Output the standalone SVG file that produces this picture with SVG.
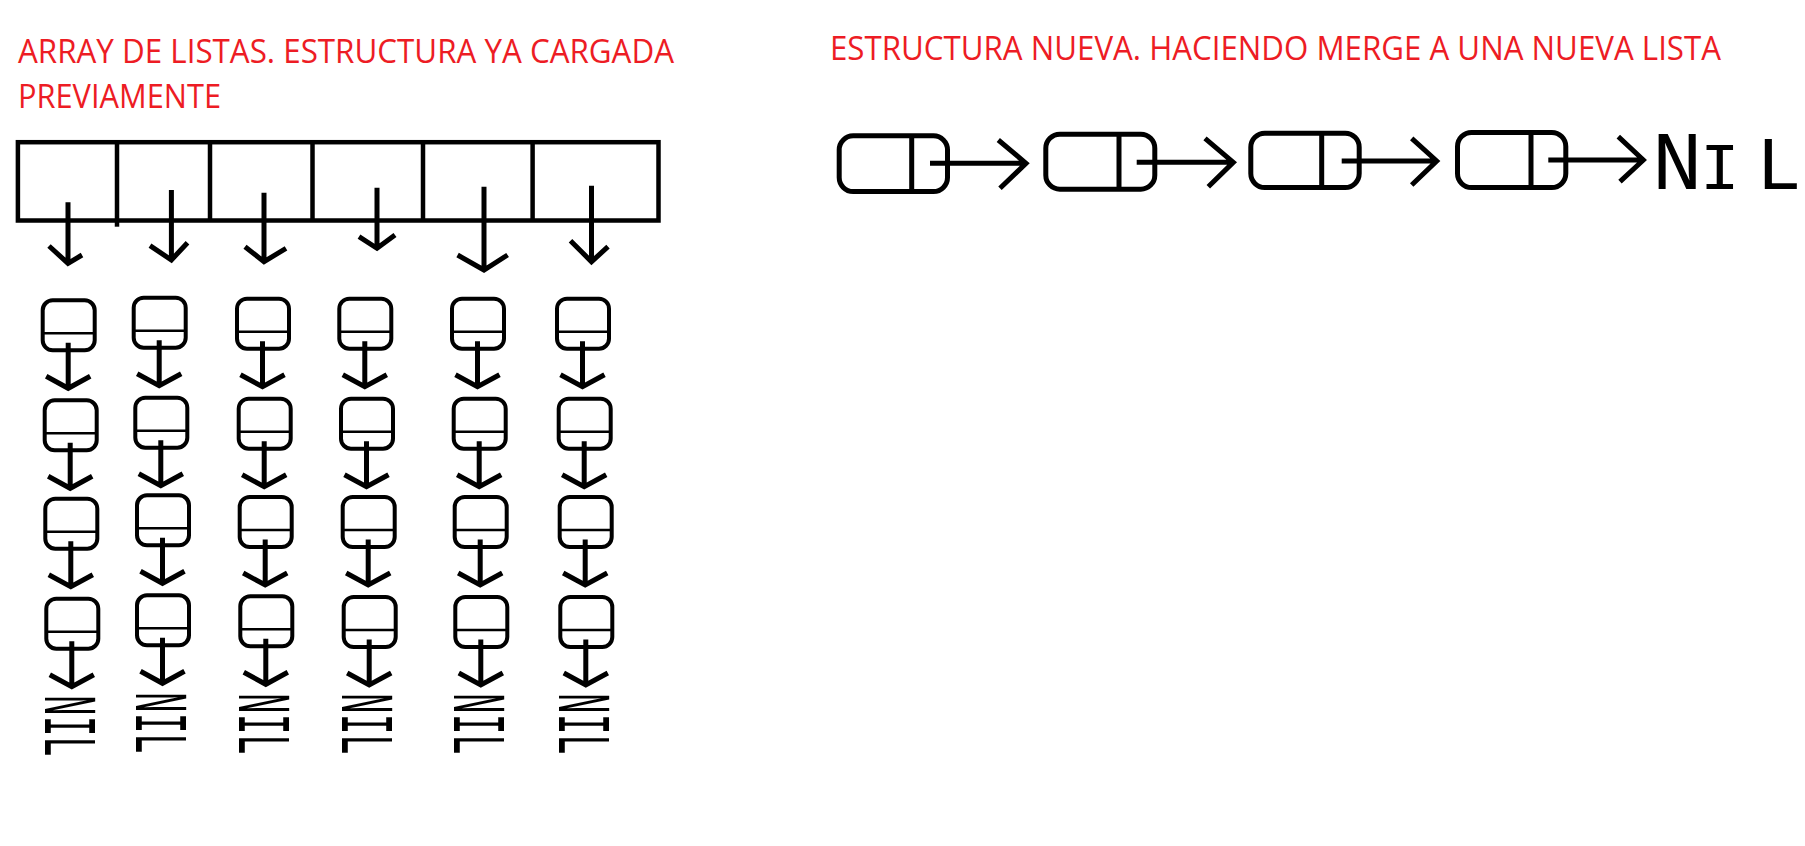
<svg xmlns="http://www.w3.org/2000/svg" width="1805" height="846" viewBox="0 0 1805 846">
<style>
.t{font-family:"Open Sans","Noto Sans",sans-serif;fill:#ED1C24;}
.box{fill:none;stroke:#000;stroke-width:4.5;}
.sep{stroke:#000;stroke-width:4.5;}
.vn rect{fill:none;stroke:#000;stroke-width:4;}
.vn line{stroke:#000;stroke-width:2.5;}
.hn rect{fill:none;stroke:#000;stroke-width:5;}
.hn line{stroke:#000;stroke-width:5;}
.arr path{fill:none;stroke:#000;stroke-width:5;stroke-linejoin:miter;}
.nil{font-family:"Liberation Mono","DejaVu Sans Mono",monospace;fill:#000;}
</style>
<rect width="1805" height="846" fill="#fff"/>
<g id="titles">
<text class="t" x="18" y="62.7" font-size="32" textLength="656" lengthAdjust="spacingAndGlyphs">ARRAY DE LISTAS. ESTRUCTURA YA CARGADA</text>
<text class="t" x="18" y="107.7" font-size="32" textLength="203" lengthAdjust="spacingAndGlyphs">PREVIAMENTE</text>
<text class="t" x="830" y="60" font-size="32" textLength="891" lengthAdjust="spacingAndGlyphs">ESTRUCTURA NUEVA. HACIENDO MERGE A UNA NUEVA LISTA</text>
</g>
<g id="array">
<rect class="box" x="17.9" y="142.2" width="640.6" height="78.3"/>
<line class="sep" x1="117" y1="142" x2="117" y2="226.7"/>
<line class="sep" x1="210" y1="142" x2="210" y2="220.5"/>
<line class="sep" x1="312.5" y1="142" x2="312.5" y2="220.5"/>
<line class="sep" x1="423" y1="142" x2="423" y2="220.5"/>
<line class="sep" x1="532.6" y1="142" x2="532.6" y2="220.5"/>
</g>
<g id="col1">
<g id="c1n1" class="vn"><rect x="42.7" y="300.3" width="52" height="50" rx="10"/><line x1="42.7" y1="333.3" x2="94.7" y2="333.3"/></g>
<g id="c1n2" class="vn"><rect x="44.7" y="400.3" width="52" height="50" rx="10"/><line x1="44.7" y1="433.3" x2="96.7" y2="433.3"/></g>
<g id="c1n3" class="vn"><rect x="45.3" y="498.7" width="52" height="50" rx="10"/><line x1="45.3" y1="531.7" x2="97.3" y2="531.7"/></g>
<g id="c1n4" class="vn"><rect x="46.3" y="598.7" width="52" height="50" rx="10"/><line x1="46.3" y1="631.7" x2="98.3" y2="631.7"/></g>
<text id="c1nil" class="nil" font-size="76" textLength="62" lengthAdjust="spacingAndGlyphs" transform="translate(45,695) rotate(90)">NIL</text>
</g>
<g id="col2">
<g id="c2n1" class="vn"><rect x="133.7" y="297.7" width="52" height="50" rx="10"/><line x1="133.7" y1="330.7" x2="185.7" y2="330.7"/></g>
<g id="c2n2" class="vn"><rect x="135.3" y="397.7" width="52" height="50" rx="10"/><line x1="135.3" y1="430.7" x2="187.3" y2="430.7"/></g>
<g id="c2n3" class="vn"><rect x="137" y="495.3" width="52" height="50" rx="10"/><line x1="137" y1="528.3" x2="189" y2="528.3"/></g>
<g id="c2n4" class="vn"><rect x="137" y="595.3" width="52" height="50" rx="10"/><line x1="137" y1="628.3" x2="189" y2="628.3"/></g>
<text id="c2nil" class="nil" font-size="76" textLength="62" lengthAdjust="spacingAndGlyphs" transform="translate(135.7,692) rotate(90)">NIL</text>
</g>
<g id="col3">
<g id="c3n1" class="vn"><rect x="237" y="298.7" width="52" height="50" rx="10"/><line x1="237" y1="331.7" x2="289" y2="331.7"/></g>
<g id="c3n2" class="vn"><rect x="238.7" y="398.7" width="52" height="50" rx="10"/><line x1="238.7" y1="431.7" x2="290.7" y2="431.7"/></g>
<g id="c3n3" class="vn"><rect x="239.7" y="497" width="52" height="50" rx="10"/><line x1="239.7" y1="530" x2="291.7" y2="530"/></g>
<g id="c3n4" class="vn"><rect x="240.3" y="596.3" width="52" height="50" rx="10"/><line x1="240.3" y1="629.3" x2="292.3" y2="629.3"/></g>
<text id="c3nil" class="nil" font-size="76" textLength="62" lengthAdjust="spacingAndGlyphs" transform="translate(239,693) rotate(90)">NIL</text>
</g>
<g id="col4">
<g id="c4n1" class="vn"><rect x="339.3" y="298.7" width="52" height="50" rx="10"/><line x1="339.3" y1="331.7" x2="391.3" y2="331.7"/></g>
<g id="c4n2" class="vn"><rect x="341" y="398.7" width="52" height="50" rx="10"/><line x1="341" y1="431.7" x2="393" y2="431.7"/></g>
<g id="c4n3" class="vn"><rect x="342.7" y="497" width="52" height="50" rx="10"/><line x1="342.7" y1="530" x2="394.7" y2="530"/></g>
<g id="c4n4" class="vn"><rect x="343.7" y="597" width="52" height="50" rx="10"/><line x1="343.7" y1="630" x2="395.7" y2="630"/></g>
<text id="c4nil" class="nil" font-size="76" textLength="62" lengthAdjust="spacingAndGlyphs" transform="translate(342.4,693) rotate(90)">NIL</text>
</g>
<g id="col5">
<g id="c5n1" class="vn"><rect x="452" y="298.7" width="52" height="50" rx="10"/><line x1="452" y1="331.7" x2="504" y2="331.7"/></g>
<g id="c5n2" class="vn"><rect x="453.7" y="398.7" width="52" height="50" rx="10"/><line x1="453.7" y1="431.7" x2="505.7" y2="431.7"/></g>
<g id="c5n3" class="vn"><rect x="454.7" y="497" width="52" height="50" rx="10"/><line x1="454.7" y1="530" x2="506.7" y2="530"/></g>
<g id="c5n4" class="vn"><rect x="455.3" y="597" width="52" height="50" rx="10"/><line x1="455.3" y1="630" x2="507.3" y2="630"/></g>
<text id="c5nil" class="nil" font-size="76" textLength="62" lengthAdjust="spacingAndGlyphs" transform="translate(454,693) rotate(90)">NIL</text>
</g>
<g id="col6">
<g id="c6n1" class="vn"><rect x="557" y="298.7" width="52" height="50" rx="10"/><line x1="557" y1="331.7" x2="609" y2="331.7"/></g>
<g id="c6n2" class="vn"><rect x="558.7" y="398.7" width="52" height="50" rx="10"/><line x1="558.7" y1="431.7" x2="610.7" y2="431.7"/></g>
<g id="c6n3" class="vn"><rect x="559.7" y="497" width="52" height="50" rx="10"/><line x1="559.7" y1="530" x2="611.7" y2="530"/></g>
<g id="c6n4" class="vn"><rect x="560.3" y="597" width="52" height="50" rx="10"/><line x1="560.3" y1="630" x2="612.3" y2="630"/></g>
<text id="c6nil" class="nil" font-size="76" textLength="62" lengthAdjust="spacingAndGlyphs" transform="translate(559,693) rotate(90)">NIL</text>
</g>
<g id="merged">
<g id="m1" class="hn"><rect x="839.2" y="135.8" width="108.3" height="55.7" rx="14"/><line x1="911.7" y1="135.8" x2="911.7" y2="191.5"/></g>
<g id="m2" class="hn"><rect x="1045.8" y="134.2" width="109" height="55" rx="14"/><line x1="1119" y1="134.2" x2="1119" y2="189.2"/></g>
<g id="m3" class="hn"><rect x="1250.8" y="133.2" width="108.4" height="54.3" rx="14"/><line x1="1321.7" y1="133.2" x2="1321.7" y2="187.5"/></g>
<g id="m4" class="hn"><rect x="1457.5" y="132.5" width="108.3" height="55" rx="14"/><line x1="1531" y1="132.5" x2="1531" y2="187.5"/></g>
<text id="mnil" class="nil" y="189"><tspan x="1652" font-size="84">N</tspan><tspan x="1700" font-size="66">I</tspan><tspan x="1756" font-size="76">L</tspan></text>
</g>
<g id="connectors" class="arr">
<path d="M68,202.3V263.3M49,246L68,263.3L82,255"/>
<path d="M171.4,190V260M150,245.7L171.4,260L187.5,242.7"/>
<path d="M264,192.7V261.7M245,246.7L264,261.7L286,248.3"/>
<path d="M377,187.7V248.3M359,236.7L377,248.3L395,235"/>
<path d="M484,186.7V270M457.6,255L484,270L507.6,255"/>
<path d="M591.5,185.7V261.7M570.5,240.7L591.5,261.7L608,246.7"/>
<path d="M68.2,342.8V388.3M46.2,376.3L68.2,388.3L90.2,376.3"/>
<path d="M70.2,442.8V488.3M48.2,476.3L70.2,488.3L92.2,476.3"/>
<path d="M70.8,541.2V586.7M48.8,574.7L70.8,586.7L92.8,574.7"/>
<path d="M71.8,641.2V686.7M49.8,674.7L71.8,686.7L93.8,674.7"/>
<path d="M159.2,340.2V385.7M137.2,373.7L159.2,385.7L181.2,373.7"/>
<path d="M160.8,440.2V485.7M138.8,473.7L160.8,485.7L182.8,473.7"/>
<path d="M162.5,537.8V583.3M140.5,571.3L162.5,583.3L184.5,571.3"/>
<path d="M162.5,637.8V683.3M140.5,671.3L162.5,683.3L184.5,671.3"/>
<path d="M262.5,341.2V386.7M240.5,374.7L262.5,386.7L284.5,374.7"/>
<path d="M264.2,441.2V486.7M242.2,474.7L264.2,486.7L286.2,474.7"/>
<path d="M265.2,539.5V585M243.2,573L265.2,585L287.2,573"/>
<path d="M265.8,638.8V684.3M243.8,672.3L265.8,684.3L287.8,672.3"/>
<path d="M364.8,341.2V386.7M342.8,374.7L364.8,386.7L386.8,374.7"/>
<path d="M366.5,441.2V486.7M344.5,474.7L366.5,486.7L388.5,474.7"/>
<path d="M368.2,539.5V585M346.2,573L368.2,585L390.2,573"/>
<path d="M369.2,639.5V685M347.2,673L369.2,685L391.2,673"/>
<path d="M477.5,341.2V386.7M455.5,374.7L477.5,386.7L499.5,374.7"/>
<path d="M479.2,441.2V486.7M457.2,474.7L479.2,486.7L501.2,474.7"/>
<path d="M480.2,539.5V585M458.2,573L480.2,585L502.2,573"/>
<path d="M480.8,639.5V685M458.8,673L480.8,685L502.8,673"/>
<path d="M582.5,341.2V386.7M560.5,374.7L582.5,386.7L604.5,374.7"/>
<path d="M584.2,441.2V486.7M562.2,474.7L584.2,486.7L606.2,474.7"/>
<path d="M585.2,539.5V585M563.2,573L585.2,585L607.2,573"/>
<path d="M585.8,639.5V685M563.8,673L585.8,685L607.8,673"/>
<path d="M930,163.3H1026M998.3,140L1026,163.3L1000,188.3"/>
<path d="M1136.7,162.3H1233.3M1205,138.3L1233.3,162.3L1208.3,186.7"/>
<path d="M1341.7,161H1436.7M1411.7,138.3L1436.7,161L1411.7,185"/>
<path d="M1548.3,160H1643.3M1618.3,136.7L1643.3,160L1620,181.7"/>
</g>
</svg>
